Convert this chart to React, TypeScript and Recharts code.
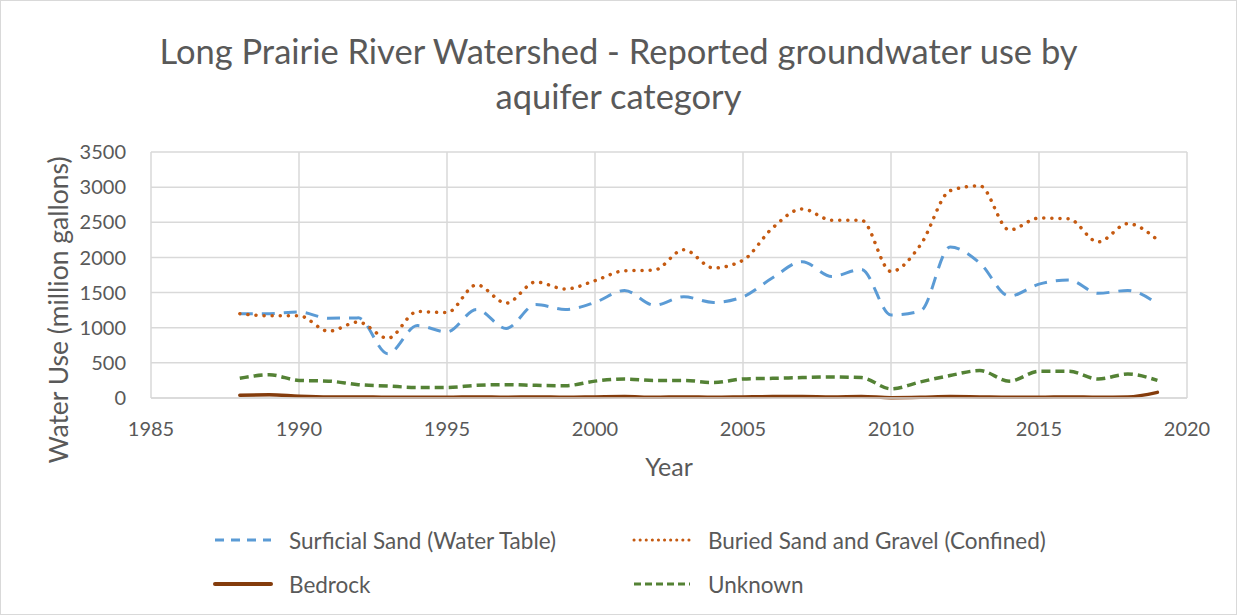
import { LineChart, Line, XAxis, YAxis, CartesianGrid, Label } from 'recharts';

const years = [
  1988, 1989, 1990, 1991, 1992, 1993, 1994, 1995, 1996, 1997, 1998, 1999, 2000, 2001, 2002, 2003,
  2004, 2005, 2006, 2007, 2008, 2009, 2010, 2011, 2012, 2013, 2014, 2015, 2016, 2017, 2018, 2019,
];
const surficial = [
  1200, 1200, 1225, 1135, 1140, 630, 1030, 940, 1260, 990, 1330, 1260, 1360, 1530, 1320, 1440,
  1360, 1440, 1710, 1940, 1730, 1830, 1180, 1240, 2150, 1920, 1450, 1620, 1680, 1490, 1530, 1340,
];
const buried = [
  1200, 1170, 1170, 950, 1080, 850, 1230, 1215, 1610, 1350, 1650, 1550, 1670, 1810, 1820, 2110,
  1850, 1960, 2420, 2690, 2530, 2530, 1800, 2180, 2950, 3020, 2390, 2560, 2550, 2220, 2480, 2250,
];
const bedrock = [
  40, 45, 25, 15, 15, 10, 10, 10, 15, 10, 15, 10, 15, 20, 10, 15,
  10, 15, 20, 20, 15, 20, 5, 10, 20, 15, 10, 10, 15, 10, 15, 80,
];
const unknown = [
  280, 330, 250, 240, 190, 170, 150, 150, 180, 190, 180, 175, 240, 270, 250, 250,
  220, 270, 280, 290, 300, 290, 130, 230, 320, 390, 240, 380, 380, 270, 340, 250,
];
const xTicks = [1985, 1990, 1995, 2000, 2005, 2010, 2015, 2020];
const yTicks = [0, 500, 1000, 1500, 2000, 2500, 3000, 3500];

const data = years.map((year, i) => ({
  year,
  surficial: surficial[i],
  buried: buried[i],
  bedrock: bedrock[i],
  unknown: unknown[i],
}));

const FONT = 'Lato, "Open Sans", sans-serif';
const TEXT = '#595959';

const series = [
  { key: 'surficial', name: 'Surficial Sand (Water Table)', color: '#5B9BD5', dash: '13 9', legendDash: '9 7', width: 3, cap: 'butt' },
  { key: 'buried', name: 'Buried Sand and Gravel (Confined)', color: '#C55A11', dash: '0.1 8', legendDash: '0.1 6', width: 3.5, cap: 'round' },
  { key: 'bedrock', name: 'Bedrock', color: '#843C0C', dash: undefined, legendDash: undefined, width: 3.5, cap: 'round' },
  { key: 'unknown', name: 'Unknown', color: '#548235', dash: '9 5', legendDash: '7 4', width: 3.5, cap: 'butt' },
] as const;

function LegendBox() {
  return (
    <div
      style={{
        position: 'absolute',
        left: 212,
        top: 524,
        display: 'grid',
        gridTemplateColumns: '419px 420px',
        gridAutoRows: '44px',
        fontFamily: FONT,
        fontSize: 22.5,
        color: TEXT,
      }}
    >
      {series.map((s) => (
        <div key={s.key} style={{ display: 'flex', alignItems: 'center', height: 30 }}>
          <svg width={60} height={10} style={{ marginRight: 16 }}>
            <line
              x1={2}
              y1={5}
              x2={58}
              y2={5}
              stroke={s.color}
              strokeWidth={s.key === 'bedrock' ? 4 : 3}
              strokeDasharray={s.legendDash}
              strokeLinecap={s.cap}
            />
          </svg>
          <span>{s.name}</span>
        </div>
      ))}
    </div>
  );
}

// rotated y-axis title, set a little below the plot's middle like the original
function YTitle(props: any) {
  const vb = props.viewBox || { x: 0, y: 0, width: 0, height: 0 };
  const x = 57;
  const y = vb.y + vb.height / 2 + 35;
  return (
    <text
      x={x}
      y={y}
      transform={`rotate(-90 ${x} ${y})`}
      textAnchor="middle"
      dominantBaseline="central"
      fill={TEXT}
      fontSize={26.5}
      fontFamily={FONT}
    >
      Water Use (million gallons)
    </text>
  );
}

export default function App() {
  return (
    <div
      style={{
        position: 'absolute',
        left: 0,
        top: 0,
        width: 1235,
        height: 613,
        border: '1px solid #d9d9d9',
        background: '#fff',
      }}
    >
      <div
        style={{
          position: 'absolute',
          left: 0,
          top: 27,
          width: 1235,
          textAlign: 'center',
          fontFamily: FONT,
          fontSize: 34.5,
          lineHeight: '45px',
          color: TEXT,
          zIndex: 1,
        }}
      >
        Long Prairie River Watershed - Reported groundwater use by
        <br />
        aquifer category
      </div>
      <LineChart
        width={1235}
        height={613}
        data={data}
        margin={{ top: 151, right: 49, left: 50, bottom: 124 }}
      >
        <CartesianGrid stroke="#d9d9d9" strokeWidth={1.5} />
        <XAxis
          dataKey="year"
          type="number"
          domain={[1985, 2020]}
          ticks={xTicks}
          tickLine={false}
          axisLine={{ stroke: '#d9d9d9', strokeWidth: 1.5 }}
          tick={{ fill: TEXT, fontSize: 20, fontFamily: FONT }}
          tickMargin={18}
          height={92}
        >
          <Label
            value="Year"
            position="insideBottom"
            offset={14}
            style={{ fill: TEXT, fontSize: 25, fontFamily: FONT }}
          />
        </XAxis>
        <YAxis
          type="number"
          domain={[0, 3500]}
          ticks={yTicks}
          tickLine={false}
          axisLine={false}
          tick={{ fill: TEXT, fontSize: 20, fontFamily: FONT }}
          tickMargin={19}
          width={100}
        >
          <Label content={YTitle} />
        </YAxis>
        {series.map((s) => (
          <Line
            key={s.key}
            type="monotone"
            dataKey={s.key}
            name={s.name}
            stroke={s.color}
            strokeWidth={s.width}
            strokeDasharray={s.dash}
            strokeLinecap={s.cap}
            dot={false}
            activeDot={false}
            isAnimationActive={false}
          />
        ))}
      </LineChart>
      <LegendBox />
    </div>
  );
}
